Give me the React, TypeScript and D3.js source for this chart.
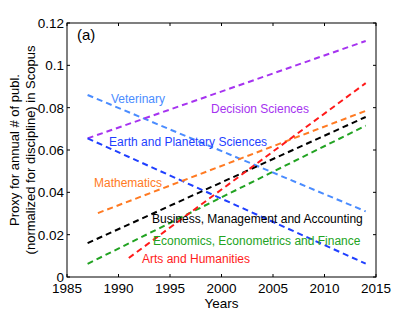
import * as React from 'react'
import * as d3 from 'd3'

interface Series {
  name: string;
  color: string;
  years: number[];
  values: number[];
}

const disciplines = [
  'Veterinary',
  'Decision Sciences',
  'Earth and Planetary Sciences',
  'Mathematics',
  'Business, Management and Accounting',
  'Economics, Econometrics and Finance',
  'Arts and Humanities',
];
const startYears = [1987, 1987, 1987, 1988, 1987, 1987, 1991];
const endYears = [2014, 2014, 2014, 2014, 2014, 2014, 2014];
const startValues = [0.086, 0.0655, 0.0655, 0.0302, 0.016, 0.0062, 0.009];
const endValues = [0.031, 0.1115, 0.0063, 0.0785, 0.0756, 0.0715, 0.0916];
const colors = ['#4a8cff', '#a633f0', '#1f3fff', '#ff7a22', '#000000', '#22a322', '#ff1a1a'];

const xTicks = [1985, 1990, 1995, 2000, 2005, 2010, 2015];
const yTicks = [0, 0.02, 0.04, 0.06, 0.08, 0.1, 0.12];

// label anchor (year, value) for each discipline
const labelYears = [1989.27, 1998.98, 1989.08, 1987.62, 1993.25, 1993.35, 1992.28];
const labelValues = [0.0823, 0.0777, 0.0617, 0.0423, 0.0253, 0.0149, 0.0064];

const series: Series[] = disciplines.map((name, i) => ({
  name,
  color: colors[i],
  years: [startYears[i], endYears[i]],
  values: [startValues[i], endValues[i]],
}));

const W = 415;
const H = 312;
const margin = { left: 67, right: 39, top: 23, bottom: 35 };

const App: React.FC = () => {
  const ref = React.useRef<SVGSVGElement>(null);

  React.useEffect(() => {
    const svg = d3.select(ref.current);
    svg.selectAll('*').remove();

    const x = d3.scaleLinear().domain([1985, 2015]).range([margin.left, W - margin.right]);
    const y = d3.scaleLinear().domain([0, 0.12]).range([H - margin.bottom, margin.top]);

    const font = "'Liberation Sans', Arial, sans-serif";

    // lines
    const line = d3.line<[number, number]>()
      .x(d => x(d[0]))
      .y(d => y(d[1]));

    series.forEach(s => {
      svg.append('path')
        .attr('d', line(s.years.map((yr, j) => [yr, s.values[j]] as [number, number])))
        .attr('fill', 'none')
        .attr('stroke', s.color)
        .attr('stroke-width', 2)
        .attr('stroke-dasharray', '6,4');
    });

    // labels
    series.forEach((s, i) => {
      svg.append('text')
        .attr('x', x(labelYears[i]))
        .attr('y', y(labelValues[i]))
        .attr('font-family', font)
        .attr('font-size', 12)
        .attr('fill', s.color)
        .text(s.name);
    });

    // frame
    const x0 = margin.left, x1 = W - margin.right;
    const y0 = H - margin.bottom, y1 = margin.top;
    svg.append('rect')
      .attr('x', x0).attr('y', y1)
      .attr('width', x1 - x0).attr('height', y0 - y1)
      .attr('fill', 'none').attr('stroke', '#000').attr('stroke-width', 1);

    // ticks
    const tl = 3;
    xTicks.forEach(t => {
      svg.append('line').attr('x1', x(t)).attr('x2', x(t)).attr('y1', y0).attr('y2', y0 - tl).attr('stroke', '#000');
      svg.append('line').attr('x1', x(t)).attr('x2', x(t)).attr('y1', y1).attr('y2', y1 + tl).attr('stroke', '#000');
      svg.append('text')
        .attr('x', x(t)).attr('y', y0 + 16)
        .attr('text-anchor', 'middle')
        .attr('font-family', font).attr('font-size', 13.5)
        .text(t);
    });
    yTicks.forEach(t => {
      svg.append('line').attr('x1', x0).attr('x2', x0 + tl).attr('y1', y(t)).attr('y2', y(t)).attr('stroke', '#000');
      svg.append('line').attr('x1', x1).attr('x2', x1 - tl).attr('y1', y(t)).attr('y2', y(t)).attr('stroke', '#000');
      svg.append('text')
        .attr('x', x0 - 3).attr('y', y(t) + 5)
        .attr('text-anchor', 'end')
        .attr('font-family', font).attr('font-size', 13.5)
        .text(t === 0 ? '0' : String(+t.toFixed(2)));
    });

    // axis titles
    svg.append('text')
      .attr('x', (x0 + x1) / 2).attr('y', H - 4)
      .attr('text-anchor', 'middle')
      .attr('font-family', font).attr('font-size', 13.5)
      .text('Years');

    const cy = (y0 + y1) / 2;
    svg.append('text')
      .attr('transform', `translate(19,${cy}) rotate(-90)`)
      .attr('text-anchor', 'middle')
      .attr('font-family', font).attr('font-size', 13)
      .text('Proxy for annual # of publ.');
    svg.append('text')
      .attr('transform', `translate(35,${cy}) rotate(-90)`)
      .attr('text-anchor', 'middle')
      .attr('font-family', font).attr('font-size', 13)
      .text('(normalized for discipline) in Scopus');

    svg.append('text')
      .attr('x', x0 + 10).attr('y', y1 + 17)
      .attr('font-family', font).attr('font-size', 15)
      .text('(a)');
  }, []);

  return (
    <svg
      ref={ref}
      width={W}
      height={H}
      style={{ position: 'absolute', left: 0, top: 0, background: '#fff' }}
    />
  );
};

export default App;
